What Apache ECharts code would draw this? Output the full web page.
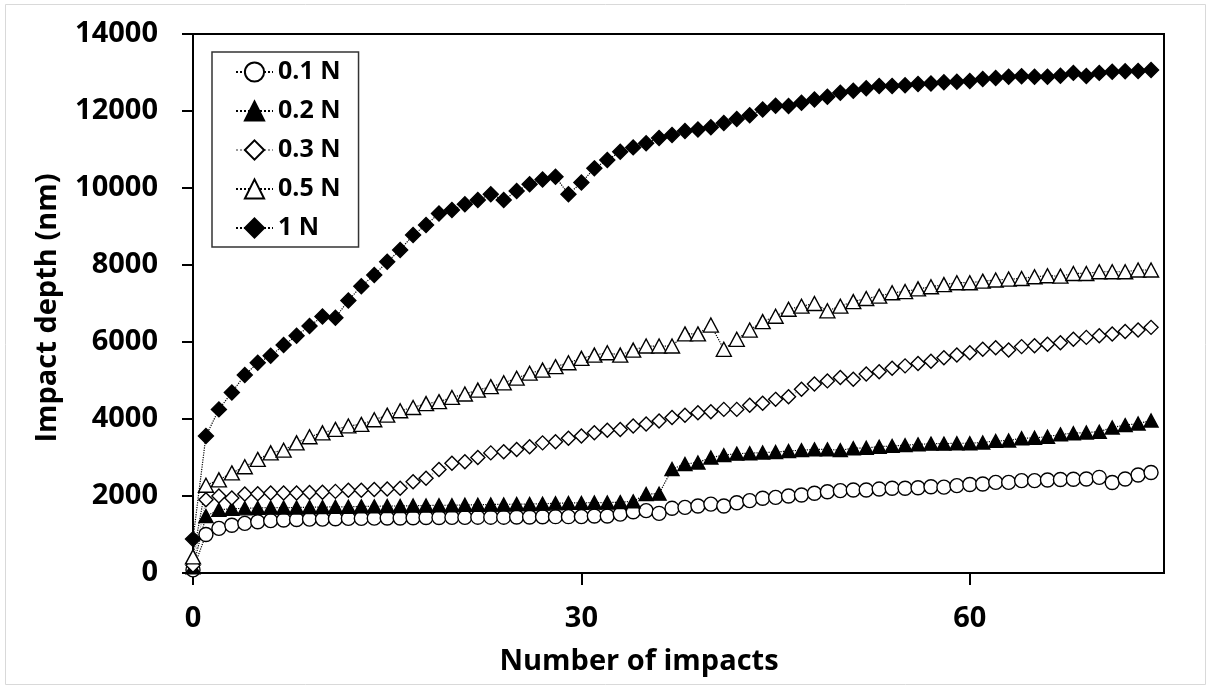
<!DOCTYPE html>
<html>
<head>
<meta charset="utf-8">
<script src="https://cdn.jsdelivr.net/npm/echarts@6/dist/echarts.min.js"></script>
<style>
  html, body { margin: 0; padding: 0; background: #fff; }
  #chart { width: 1207px; height: 686px; }
</style>
</head>
<body>
<div id="chart"></div>
<script>
// number of impacts (x)
var impacts = [0, 1, 2, 3, 4, 5, 6, 7, 8, 9, 10, 11, 12, 13, 14, 15, 16, 17, 18, 19,
    20, 21, 22, 23, 24, 25, 26, 27, 28, 29, 30, 31, 32, 33, 34, 35, 36, 37, 38, 39,
    40, 41, 42, 43, 44, 45, 46, 47, 48, 49, 50, 51, 52, 53, 54, 55, 56, 57, 58, 59,
    60, 61, 62, 63, 64, 65, 66, 67, 68, 69, 70, 71, 72, 73, 74];

// impact depth (nm) per load
var depth01 = [80, 1000, 1160, 1240, 1290, 1330, 1360, 1375, 1390, 1400,
    1400, 1410, 1420, 1420, 1425, 1430, 1430, 1435, 1440, 1440,
    1445, 1445, 1450, 1450, 1450, 1455, 1455, 1460, 1463, 1463,
    1465, 1480, 1480, 1530, 1590, 1620, 1550, 1680, 1705, 1740,
    1790, 1740, 1825, 1880, 1940, 1965, 2000, 2025, 2070, 2110,
    2140, 2155, 2155, 2180, 2200, 2200, 2215, 2240, 2230, 2270,
    2300, 2310, 2355, 2355, 2400, 2400, 2415, 2430, 2435, 2440,
    2485, 2350, 2440, 2545, 2610];
var depth02 = [150, 1480, 1640, 1670, 1680, 1690, 1700, 1700, 1700, 1710,
    1710, 1720, 1720, 1730, 1730, 1740, 1740, 1750, 1750, 1760,
    1760, 1770, 1770, 1780, 1780, 1790, 1790, 1800, 1810, 1820,
    1820, 1830, 1830, 1840, 1860, 2050, 2060, 2700, 2830, 2870,
    3000, 3060, 3100, 3110, 3130, 3140, 3170, 3190, 3210, 3210,
    3190, 3240, 3250, 3280, 3300, 3320, 3340, 3360, 3360, 3370,
    3370, 3390, 3430, 3440, 3500, 3510, 3540, 3600, 3630, 3650,
    3670, 3780, 3840, 3880, 3960];
var depth03 = [200, 1900, 2000, 1950, 2050, 2060, 2080, 2080, 2080, 2090,
    2100, 2120, 2150, 2150, 2170, 2180, 2200, 2370, 2460, 2690,
    2850, 2890, 3000, 3120, 3150, 3210, 3280, 3380, 3410, 3500,
    3560, 3640, 3710, 3730, 3820, 3870, 3950, 4040, 4100, 4160,
    4190, 4250, 4250, 4360, 4410, 4510, 4580, 4770, 4910, 4990,
    5080, 5030, 5170, 5230, 5320, 5380, 5440, 5500, 5590, 5660,
    5720, 5810, 5850, 5790, 5880, 5900, 5940, 5980, 6070, 6120,
    6160, 6210, 6270, 6310, 6380];
var depth05 = [420, 2280, 2420, 2600, 2760, 2950, 3120, 3190, 3380, 3540,
    3640, 3730, 3820, 3860, 3980, 4100, 4215, 4300, 4400, 4450,
    4560, 4650, 4750, 4840, 4940, 5060, 5190, 5270, 5360, 5460,
    5575, 5660, 5720, 5660, 5790, 5895, 5895, 5895, 6210, 6210,
    6440, 5810, 6070, 6310, 6530, 6670, 6850, 6930, 7000, 6810,
    6930, 7050, 7130, 7190, 7280, 7310, 7380, 7435, 7490, 7540,
    7540, 7580, 7610, 7635, 7650, 7695, 7720, 7710, 7780, 7780,
    7825, 7825, 7825, 7870, 7870];
var depth1 = [880, 3560, 4250, 4690, 5140, 5460, 5640, 5920, 6160, 6415,
    6660, 6630, 7080, 7450, 7740, 8085, 8390, 8780, 9040, 9340,
    9430, 9575, 9690, 9840, 9690, 9920, 10100, 10220, 10290, 9840,
    10140, 10510, 10725, 10940, 11055, 11160, 11300, 11375, 11480, 11520,
    11575, 11690, 11790, 11890, 12040, 12135, 12130, 12215, 12300, 12370,
    12475, 12525, 12590, 12650, 12650, 12670, 12700, 12717, 12745, 12760,
    12777, 12830, 12860, 12890, 12905, 12890, 12890, 12915, 12990, 12910,
    12990, 13020, 13035, 13040, 13065];

var loadNames = ['0.1 N', '0.2 N', '0.3 N', '0.5 N', '1 N'];
var xTicks = [0, 30, 60];

var FONT = '"Open Sans", "DejaVu Sans", sans-serif';

function pairs(ys) {
    var out = [];
    for (let i = 0; i < ys.length; i++) {
        out.push([impacts[i], ys[i]]);
    }
    return out;
}

function makeSeries(name, ys, symbol, size, fill, lineColor) {
    return {
        name: name,
        type: 'line',
        data: pairs(ys),
        symbol: symbol,
        symbolSize: size,
        showAllSymbol: true,
        animation: false,
        lineStyle: { color: lineColor, width: 1.2, type: 'dotted' },
        itemStyle: { color: fill, borderColor: '#000', borderWidth: 1.4, opacity: 1 },
        emphasis: { disabled: true }
    };
}

var chart = echarts.init(document.getElementById('chart'));

var option = {
    backgroundColor: '#fff',
    animation: false,
    textStyle: { fontFamily: FONT },
    grid: {
        left: 193, top: 34, right: 43, bottom: 113,
        show: true, borderColor: '#000', borderWidth: 2, backgroundColor: 'transparent'
    },
    legend: {
        orient: 'vertical',
        left: 212, top: 52,
        padding: [5, 18, 4, 23],
        borderColor: '#333', borderWidth: 1.5,
        backgroundColor: '#fff',
        itemWidth: 37, itemHeight: 24, itemGap: 9,
        selectedMode: false,
        textStyle: { fontFamily: FONT, fontSize: 25, fontWeight: 'bold', color: '#000', lineHeight: 30 },
        data: loadNames
    },
    xAxis: {
        type: 'value',
        min: 0, max: 75, interval: 15,
        splitLine: { show: false },
        axisLine: { onZero: false, lineStyle: { color: '#000', width: 2 } },
        axisTick: { customValues: xTicks, length: 12, lineStyle: { color: '#000', width: 2 } },
        axisLabel: {
            customValues: xTicks, margin: 31,
            fontFamily: FONT, fontSize: 29, fontWeight: 'bold', color: '#000'
        }
    },
    yAxis: {
        type: 'value',
        min: 0, max: 14000, interval: 2000,
        splitLine: { show: false },
        axisLine: { show: true, lineStyle: { color: '#000', width: 2 } },
        axisTick: { show: true, length: 11, lineStyle: { color: '#000', width: 2 } },
        axisLabel: {
            margin: 35,
            formatter: function (v) { return String(v); },
            fontFamily: FONT, fontSize: 29, fontWeight: 'bold', color: '#000'
        }
    },
    graphic: [
        {
            type: 'rect', silent: true, z: -10,
            shape: { x: 5.5, y: 4.5, width: 1200, height: 680 },
            style: { fill: 'none', stroke: '#d9d9d9', lineWidth: 1 }
        },
        {
            type: 'text', silent: true,
            x: 639, y: 662,
            style: {
                text: 'Number of impacts', fill: '#000',
                font: 'bold 29px ' + FONT, align: 'center', verticalAlign: 'middle'
            }
        },
        {
            type: 'text', silent: true,
            x: 48, y: 308, rotation: Math.PI / 2,
            style: {
                text: 'Impact depth (nm)', fill: '#000',
                font: 'bold 29px ' + FONT, align: 'center', verticalAlign: 'middle'
            }
        }
    ],
    series: [
        makeSeries('0.1 N', depth01, 'circle', 14, '#fff', '#000'),
        makeSeries('0.2 N', depth02, 'triangle', [14, 13], '#000', '#000'),
        makeSeries('0.3 N', depth03, 'diamond', 14, '#fff', '#999'),
        makeSeries('0.5 N', depth05, 'triangle', [15, 14], '#fff', '#000'),
        makeSeries('1 N', depth1, 'diamond', 15, '#000', '#000')
    ]
};

chart.setOption(option);
</script>
</body>
</html>
